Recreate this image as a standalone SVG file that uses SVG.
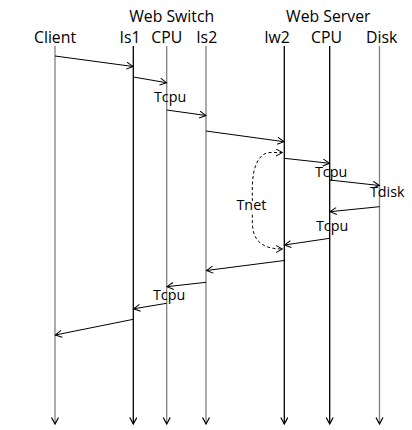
<svg xmlns="http://www.w3.org/2000/svg" width="412" height="430" viewBox="0 0 412 430">
<style>
text{font-family:"Open Sans","Liberation Sans",sans-serif;fill:#000}
.hd{font-size:15.8px;text-anchor:middle}
.lb{font-size:14.3px}
.life{fill:none;stroke-width:1.3;marker-end:url(#down)}
.g{stroke:#808080}
.k{stroke:#000}
.msg{fill:none;stroke:#000;stroke-width:1;marker-end:url(#open)}
.dash{fill:none;stroke:#000;stroke-width:1;stroke-dasharray:3 2.5;marker-start:url(#openr);marker-end:url(#open)}
.halo{paint-order:stroke;stroke:#fff;stroke-width:4}
</style>
<defs>
<marker id="open" markerUnits="userSpaceOnUse" markerWidth="10" markerHeight="10" refX="7" refY="4" orient="auto"><path d="M0.5,0.5 L7,4 L0.5,7.5" fill="none" stroke="#000" stroke-width="1"/></marker>
<marker id="openr" markerUnits="userSpaceOnUse" markerWidth="10" markerHeight="10" refX="7" refY="4" orient="auto-start-reverse"><path d="M0.5,0.5 L7,4 L0.5,7.5" fill="none" stroke="#000" stroke-width="1"/></marker>
<marker id="down" markerUnits="userSpaceOnUse" markerWidth="10" markerHeight="10" refX="7" refY="4" orient="auto"><path d="M0.5,0.5 L7,4 L0.5,7.5" fill="none" stroke="#000" stroke-width="1.2"/></marker>
</defs>
<g id="headers">
<text class="hd" x="171.7" y="22">Web Switch</text>
<text class="hd" x="328.3" y="22">Web Server</text>
</g>
<g id="client"><text class="hd" x="55" y="43">Client</text><line class="life g" x1="55" y1="46" x2="55" y2="424"/></g>
<g id="is1"><text class="hd" x="130" y="43">Is1</text><line class="life k" x1="133.3" y1="46" x2="133.3" y2="424"/></g>
<g id="switch-cpu"><text class="hd" x="166.7" y="43">CPU</text><line class="life g" x1="166.7" y1="46" x2="166.7" y2="424"/></g>
<g id="is2"><text class="hd" x="206.7" y="43">Is2</text><line class="life g" x1="206" y1="46" x2="206" y2="424"/></g>
<g id="iw2"><text class="hd" x="277" y="43">Iw2</text><line class="life k" x1="284.3" y1="46" x2="284.3" y2="424"/></g>
<g id="server-cpu"><text class="hd" x="326.5" y="43">CPU</text><line class="life k" x1="329.7" y1="46" x2="329.7" y2="424"/></g>
<g id="disk"><text class="hd" x="381.7" y="43">Disk</text><line class="life g" x1="379.5" y1="46" x2="379.5" y2="424"/></g>
<g id="connectors">
<line class="msg" x1="55" y1="56" x2="133" y2="66.5"/>
<line class="msg" x1="133.3" y1="77" x2="166.5" y2="82.7"/>
<line class="msg" x1="166.7" y1="110" x2="206" y2="115.5"/>
<line class="msg" x1="206" y1="131" x2="284" y2="141.7"/>
<line class="msg" x1="284.3" y1="158.3" x2="329.5" y2="163.3"/>
<line class="msg" x1="329.7" y1="180" x2="379.3" y2="185.5"/>
<line class="msg" x1="379.5" y1="206.7" x2="330" y2="211.7"/>
<line class="msg" x1="329.7" y1="238.3" x2="284.5" y2="245"/>
<line class="msg" x1="284.3" y1="260.5" x2="206.5" y2="270.5"/>
<line class="msg" x1="206" y1="282.3" x2="167" y2="286.7"/>
<line class="msg" x1="166.7" y1="303.3" x2="133.6" y2="308.8"/>
<line class="msg" x1="133.3" y1="319.3" x2="55.3" y2="335"/>
<path class="dash" d="M282.5,152.5 L270,152.5 C259,153 252.5,166 252.3,188 L252.3,222 C252.5,238 259,249 282.5,249"/>
</g>
<g id="labels">
<text class="lb" x="154" y="102">Tcpu</text>
<text class="lb" x="315" y="177">Tcpu</text>
<text class="lb" x="370" y="197">Tdisk</text>
<text class="lb" x="316" y="231">Tcpu</text>
<text class="lb halo" x="236.5" y="210">Tnet</text>
<text class="lb" x="153" y="300">Tcpu</text>
</g>
</svg>
